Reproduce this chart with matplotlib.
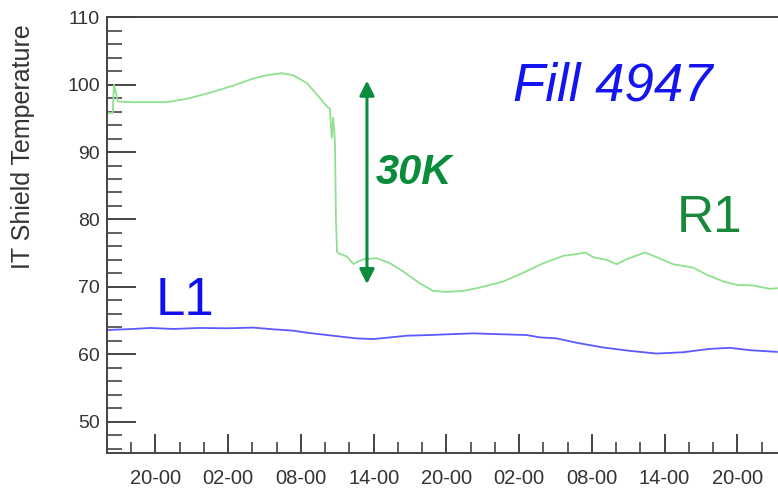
import matplotlib.pyplot as plt
from matplotlib.ticker import MultipleLocator, FuncFormatter

plt.rcParams["font.family"] = ["Liberation Sans", "DejaVu Sans"]

# time in hours from midnight of the first day
r1_hours = [16.02, 16.47, 16.58, 16.91, 18.15, 20.93, 22.58, 24.50, 26.40, 28.05,
            29.18, 30.41, 31.35, 32.48, 33.57, 34.13, 34.40, 34.54, 34.67, 34.81,
            34.89, 34.98, 35.08, 35.78, 36.32, 37.15, 38.25, 39.35, 40.42, 41.83,
            42.92, 44.03, 45.40, 46.78, 48.70, 50.35, 52.00, 53.65, 54.89, 55.44,
            56.12, 57.23, 58.05, 58.88, 60.39, 61.35, 62.72, 64.37, 65.48, 66.85,
            67.96, 69.32, 70.70, 71.36]
r1_temp = [95.8, 95.8, 100.0, 97.5, 97.4, 97.4, 97.9, 98.8, 99.85, 100.9,
           101.4, 101.7, 101.4, 100.25, 98.0, 96.8, 96.4, 92.1, 95.1, 91.4,
           80.0, 75.2, 75.0, 74.5, 73.4, 74.1, 74.25, 73.5, 72.3, 70.5,
           69.4, 69.25, 69.4, 69.9, 70.8, 72.1, 73.5, 74.6, 74.9, 75.1,
           74.4, 74.0, 73.35, 74.1, 75.1, 74.4, 73.35, 72.85, 71.8, 70.8,
           70.3, 70.2, 69.7, 69.8]

l1_hours = [16.02, 18.17, 19.55, 21.47, 23.67, 25.88, 28.07, 29.72, 31.37, 32.48,
            34.13, 36.60, 37.97, 39.08, 40.73, 42.65, 44.03, 46.22, 47.87, 50.63,
            51.73, 53.10, 54.75, 56.95, 59.15, 61.35, 63.55, 65.75, 67.40, 69.05,
            71.26]
l1_temp = [63.6, 63.75, 63.9, 63.75, 63.9, 63.85, 63.95, 63.7, 63.5, 63.2,
           62.85, 62.35, 62.25, 62.45, 62.75, 62.85, 62.95, 63.1, 63.0, 62.85,
           62.5, 62.35, 61.7, 61.0, 60.5, 60.1, 60.3, 60.8, 60.95, 60.6,
           60.35]

arrow_hour = 37.45
arrow_low, arrow_high = 70.4, 100.6

fig = plt.figure(figsize=(7.78, 4.93), dpi=100)
ax = fig.add_axes([0.1375, 0.0805, 0.8625, 0.8845])

ax.plot(r1_hours, r1_temp, color="#8fe08f", lw=1.3)
ax.plot(l1_hours, l1_temp, color="#5a5aff", lw=1.3)

ax.annotate("", xy=(arrow_hour, arrow_high), xytext=(arrow_hour, arrow_low),
            arrowprops=dict(arrowstyle="<|-|>", color="#0a8c3c", lw=2.2,
                            mutation_scale=22, shrinkA=0, shrinkB=0))

ax.text(0.400, 0.643, "30K", transform=ax.transAxes, color="#0a8c3c",
        fontsize=30, fontweight="bold", fontstyle="italic", va="center")
ax.text(0.605, 0.810, "Fill 4947", transform=ax.transAxes, color="#1414f0",
        fontsize=38, fontstyle="italic", va="baseline")
ax.text(0.073, 0.317, "L1", transform=ax.transAxes, color="#1010ee",
        fontsize=38, va="baseline")
ax.text(0.849, 0.508, "R1", transform=ax.transAxes, color="#17893a",
        fontsize=37, va="baseline")

ax.set_xlim(16, 71.36)
ax.set_ylim(45.3, 110)
ax.xaxis.set_major_locator(MultipleLocator(6, offset=2))
ax.xaxis.set_minor_locator(MultipleLocator(2))
ax.xaxis.set_major_formatter(FuncFormatter(lambda h, p: f"{int(round(h)) % 24:02d}-00"))
ax.yaxis.set_major_locator(MultipleLocator(10))
ax.yaxis.set_minor_locator(MultipleLocator(2))

ax.tick_params(axis="both", which="both", direction="in", colors="#444444",
               labelcolor="#333333")
ax.tick_params(axis="y", which="major", length=21, width=1.4, labelsize=14, pad=5)
ax.tick_params(axis="y", which="minor", length=11, width=1.2)
ax.tick_params(axis="x", which="major", length=14, width=1.4, labelsize=14.5, pad=11)
ax.tick_params(axis="x", which="minor", length=8, width=1.2)

for side in ["left", "bottom", "top"]:
    ax.spines[side].set_color("#444444")
    ax.spines[side].set_linewidth(1.4)
ax.spines["right"].set_visible(False)

ax.set_ylabel("IT Shield Temperature", fontsize=18, color="#333333")
ax.yaxis.set_label_coords(-0.107, 0.703)

fig.savefig("out.png", dpi=100)
